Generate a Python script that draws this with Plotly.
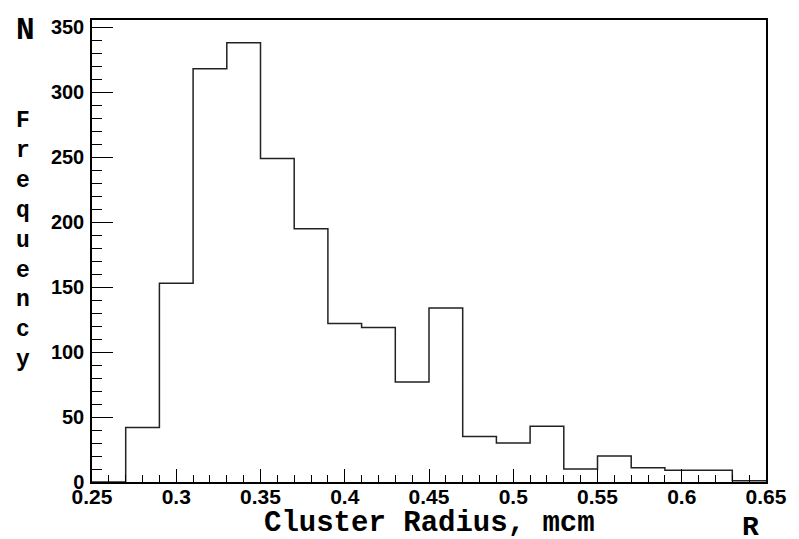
import plotly.graph_objects as go

# Histogram data: bin edges (Cluster Radius, mcm) and counts
bin_edges = [0.25, 0.27, 0.29, 0.31, 0.33, 0.35, 0.37, 0.39, 0.41, 0.43, 0.45,
             0.47, 0.49, 0.51, 0.53, 0.55, 0.57, 0.59, 0.61, 0.63, 0.65]
counts = [0, 42, 153, 318, 338, 249, 195, 122, 119, 77, 134,
          35, 30, 43, 10, 20, 11, 9, 9, 1]

x_title = "Cluster Radius, mcm"
y_title = "Frequency"

# Step outline: each count held over its bin
step_x = list(bin_edges)
step_y = list(counts) + [counts[-1]]

fig = go.Figure()
fig.add_trace(go.Scatter(
    x=step_x, y=step_y, mode="lines", line_shape="hv",
    line=dict(color="#222222", width=1.5), hoverinfo="skip", showlegend=False,
))

mono = "Courier New, Courier, Nimbus Mono PS, FreeMono, Liberation Mono, monospace"

fig.update_xaxes(
    range=[0.25, 0.65], dtick=0.05, tick0=0.25,
    showline=True, linecolor="black", linewidth=1.5, mirror=True,
    ticks="inside", ticklen=13, tickwidth=1.2, tickcolor="black",
    minor=dict(ticks="inside", dtick=0.01, ticklen=7, tickwidth=1.2, tickcolor="black"),
    showgrid=False, zeroline=False,
    tickfont=dict(family="Liberation Sans, Arial", size=21, color="black", weight="bold"),
    ticklabelstandoff=-5,
)
fig.update_yaxes(
    range=[0, 355.6], dtick=50, tick0=0,
    showline=True, linecolor="black", linewidth=1.5, mirror=True,
    ticks="inside", ticklen=21, tickwidth=1.2, tickcolor="black",
    minor=dict(ticks="inside", dtick=10, ticklen=10, tickwidth=1.2, tickcolor="black"),
    showgrid=False, zeroline=False,
    tickfont=dict(family="Liberation Sans, Arial", size=20, color="black", weight="bold"),
    ticklabelstandoff=2,
)

W, H = 799, 539
L, R, T, B = 92, 22, 20, 57
pw, ph = W - L - R, H - T - B

def px(x):
    return (x - L) / pw

def py(y):
    return (H - B - y) / ph

ann_font = dict(family=mono, color="black", weight="bold")
fig.update_layout(
    width=W, height=H,
    margin=dict(l=L, r=R, t=T, b=B),
    paper_bgcolor="white", plot_bgcolor="white",
    annotations=[
        dict(text="N", x=px(24), y=py(30), xref="paper", yref="paper",
             showarrow=False, xanchor="center", yanchor="middle",
             font=dict(ann_font, size=31)),
        dict(text="<br>".join(list(y_title)), x=px(22), y=py(241), xref="paper", yref="paper",
             showarrow=False, xanchor="center", yanchor="middle",
             font=dict(ann_font, size=23)),
        dict(text=x_title, x=px(435), y=py(523), xref="paper", yref="paper",
             showarrow=False, xanchor="center", yanchor="middle",
             font=dict(ann_font, size=29)),
        dict(text="R", x=px(761), y=py(527), xref="paper", yref="paper",
             showarrow=False, xanchor="center", yanchor="middle",
             font=dict(ann_font, size=28)),
    ],
)

fig.write_html("out.html")
